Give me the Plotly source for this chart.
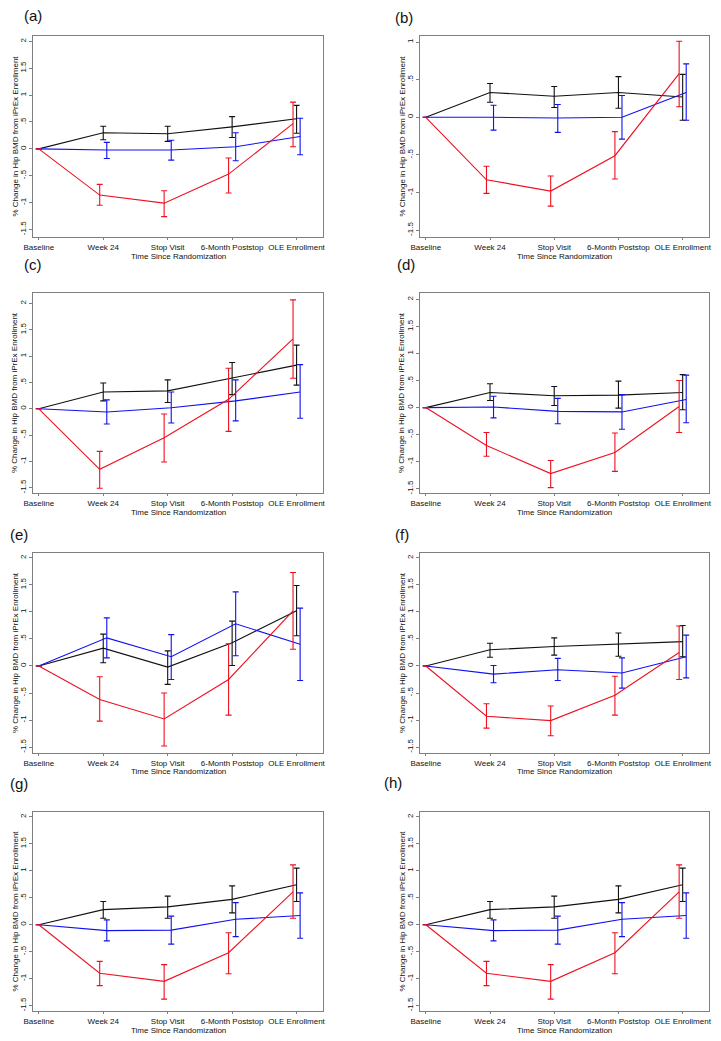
import plotly.graph_objects as go

W, H = 721, 1041

CATEGORIES = ["Baseline", "Week 24", "Stop Visit", "6-Month Poststop", "OLE Enrollment"]
PANEL_LABELS = ["(a)", "(b)", "(c)", "(d)", "(e)", "(f)", "(g)", "(h)"]

# ---- data: mean, upper CI, lower CI per panel and group ----
A_BLACK = [0, 0.30, 0.28, 0.41, 0.56]
A_BLACK_HI = [None, 0.42, 0.42, 0.60, 0.81]
A_BLACK_LO = [None, 0.17, 0.14, 0.21, 0.29]
A_BLUE = [0, -0.02, -0.02, 0.04, 0.23]
A_BLUE_HI = [None, 0.12, 0.16, 0.30, 0.57]
A_BLUE_LO = [None, -0.18, -0.21, -0.22, -0.11]
A_RED = [0, -0.86, -1.01, -0.47, 0.47]
A_RED_HI = [None, -0.66, -0.78, -0.17, 0.87]
A_RED_LO = [None, -1.05, -1.26, -0.82, 0.04]

B_BLACK = [0, 0.33, 0.28, 0.33, 0.27]
B_BLACK_HI = [None, 0.45, 0.41, 0.54, 0.57]
B_BLACK_LO = [None, 0.20, 0.13, 0.12, -0.04]
B_BLUE = [0, 0.00, -0.01, 0.00, 0.33]
B_BLUE_HI = [None, 0.16, 0.17, 0.29, 0.71]
B_BLUE_LO = [None, -0.17, -0.20, -0.29, -0.04]
B_RED = [0, -0.83, -0.98, -0.51, 0.58]
B_RED_HI = [None, -0.65, -0.78, -0.19, 1.01]
B_RED_LO = [None, -1.01, -1.18, -0.82, 0.14]

C_BLACK = [0, 0.32, 0.34, 0.58, 0.83]
C_BLACK_HI = [None, 0.49, 0.55, 0.88, 1.21]
C_BLACK_LO = [None, 0.15, 0.12, 0.27, 0.45]
C_BLUE = [0, -0.06, 0.02, 0.15, 0.32]
C_BLUE_HI = [None, 0.17, 0.32, 0.55, 0.84]
C_BLUE_LO = [None, -0.29, -0.27, -0.23, -0.18]
C_RED = [0, -1.15, -0.55, 0.18, 1.33]
C_RED_HI = [None, -0.81, -0.10, 0.77, 2.07]
C_RED_LO = [None, -1.51, -1.01, -0.43, 0.58]

D_BLACK = [0, 0.28, 0.22, 0.23, 0.28]
D_BLACK_HI = [None, 0.44, 0.39, 0.49, 0.61]
D_BLACK_LO = [None, 0.13, 0.04, -0.01, -0.04]
D_BLUE = [0, 0.01, -0.07, -0.08, 0.15]
D_BLUE_HI = [None, 0.21, 0.17, 0.24, 0.60]
D_BLUE_LO = [None, -0.19, -0.30, -0.40, -0.28]
D_RED = [0, -0.70, -1.22, -0.83, 0.02]
D_RED_HI = [None, -0.46, -0.98, -0.47, 0.50]
D_RED_LO = [None, -0.90, -1.48, -1.18, -0.46]

E_BLACK = [0, 0.33, -0.02, 0.43, 1.02]
E_BLACK_HI = [None, 0.59, 0.28, 0.83, 1.49]
E_BLACK_LO = [None, 0.06, -0.34, 0.01, 0.56]
E_BLUE = [0, 0.52, 0.17, 0.78, 0.40]
E_BLUE_HI = [None, 0.89, 0.58, 1.37, 1.07]
E_BLUE_LO = [None, 0.15, -0.25, 0.19, -0.27]
E_RED = [0, -0.62, -0.98, -0.25, 1.02]
E_RED_HI = [None, -0.20, -0.50, 0.41, 1.73]
E_RED_LO = [None, -1.02, -1.48, -0.91, 0.31]

F_BLACK = [0, 0.30, 0.36, 0.40, 0.45]
F_BLACK_HI = [None, 0.42, 0.52, 0.61, 0.75]
F_BLACK_LO = [None, 0.16, 0.20, 0.18, 0.17]
F_BLUE = [0, -0.15, -0.07, -0.13, 0.17]
F_BLUE_HI = [None, 0.01, 0.14, 0.15, 0.57]
F_BLUE_LO = [None, -0.31, -0.27, -0.41, -0.22]
F_RED = [0, -0.93, -1.01, -0.54, 0.25]
F_RED_HI = [None, -0.70, -0.74, -0.19, 0.74]
F_RED_LO = [None, -1.15, -1.29, -0.91, -0.25]

G_BLACK = [0, 0.28, 0.33, 0.47, 0.74]
G_BLACK_HI = [None, 0.43, 0.53, 0.72, 1.05]
G_BLACK_LO = [None, 0.12, 0.12, 0.22, 0.43]
G_BLUE = [0, -0.11, -0.10, 0.10, 0.17]
G_BLUE_HI = [None, 0.09, 0.16, 0.41, 0.59]
G_BLUE_LO = [None, -0.30, -0.36, -0.22, -0.25]
G_RED = [0, -0.90, -1.05, -0.52, 0.61]
G_RED_HI = [None, -0.68, -0.74, -0.15, 1.11]
G_RED_LO = [None, -1.13, -1.38, -0.91, 0.12]

H_BLACK = [0, 0.28, 0.33, 0.47, 0.74]
H_BLACK_HI = [None, 0.43, 0.53, 0.72, 1.05]
H_BLACK_LO = [None, 0.12, 0.12, 0.22, 0.43]
H_BLUE = [0, -0.11, -0.10, 0.10, 0.17]
H_BLUE_HI = [None, 0.09, 0.16, 0.41, 0.59]
H_BLUE_LO = [None, -0.30, -0.36, -0.22, -0.25]
H_RED = [0, -0.90, -1.05, -0.52, 0.61]
H_RED_HI = [None, -0.68, -0.74, -0.15, 1.11]
H_RED_LO = [None, -1.13, -1.38, -0.91, 0.12]

PANELS = [
    (A_BLACK, A_BLACK_HI, A_BLACK_LO, A_BLUE, A_BLUE_HI, A_BLUE_LO, A_RED, A_RED_HI, A_RED_LO),
    (B_BLACK, B_BLACK_HI, B_BLACK_LO, B_BLUE, B_BLUE_HI, B_BLUE_LO, B_RED, B_RED_HI, B_RED_LO),
    (C_BLACK, C_BLACK_HI, C_BLACK_LO, C_BLUE, C_BLUE_HI, C_BLUE_LO, C_RED, C_RED_HI, C_RED_LO),
    (D_BLACK, D_BLACK_HI, D_BLACK_LO, D_BLUE, D_BLUE_HI, D_BLUE_LO, D_RED, D_RED_HI, D_RED_LO),
    (E_BLACK, E_BLACK_HI, E_BLACK_LO, E_BLUE, E_BLUE_HI, E_BLUE_LO, E_RED, E_RED_HI, E_RED_LO),
    (F_BLACK, F_BLACK_HI, F_BLACK_LO, F_BLUE, F_BLUE_HI, F_BLUE_LO, F_RED, F_RED_HI, F_RED_LO),
    (G_BLACK, G_BLACK_HI, G_BLACK_LO, G_BLUE, G_BLUE_HI, G_BLUE_LO, G_RED, G_RED_HI, G_RED_LO),
    (H_BLACK, H_BLACK_HI, H_BLACK_LO, H_BLUE, H_BLUE_HI, H_BLUE_LO, H_RED, H_RED_HI, H_RED_LO),
]

Y_RANGES = [[-1.64, 2.1], [-1.59, 1.08], [-1.6, 2.2], [-1.58, 2.12],
            [-1.61, 2.09], [-1.61, 2.09], [-1.6, 2.09], [-1.6, 2.09]]
TICKS_FULL = [2, 1.5, 1, 0.5, 0, -0.5, -1, -1.5]
TICKS_FULL_TXT = ["2", "1.5", "1", ".5", "0", "-.5", "-1", "-1.5"]
TICKS_B = [1, 0.5, 0, -0.5, -1, -1.5]
TICKS_B_TXT = ["1", ".5", "0", "-.5", "-1", "-1.5"]

# ---- layout geometry (pixels) ----
COL_X = [(33, 323), (420, 709)]
ROW_Y = [(36, 237), (293, 493), (553, 753), (812, 1011)]
LABEL_POS = [(22, 15), (393, 17), (22, 264), (395, 265),
             (8, 534), (393, 534), (8, 783), (382, 782)]

FONT = "Liberation Sans, Arial, Helvetica, sans-serif"
COLORS = {"black": "#111111", "blue": "#1010f0", "red": "#ee1020"}
OFFSETS = {"black": 0.0, "blue": 0.055, "red": -0.055}
AXIS_GRAY = "#7f7f7f"

fig = go.Figure()
annotations = []

for i, pdata in enumerate(PANELS):
    row, col = divmod(i, 2)
    x0, x1 = COL_X[col]
    ytop, ybot = ROW_Y[row]
    xa = "xaxis" if i == 0 else f"xaxis{i+1}"
    ya = "yaxis" if i == 0 else f"yaxis{i+1}"
    xr = "x" if i == 0 else f"x{i+1}"
    yr = "y" if i == 0 else f"y{i+1}"

    groups = [("black", pdata[0:3]), ("blue", pdata[3:6]), ("red", pdata[6:9])]
    for name, (mean, hi, lo) in groups:
        xs = [k + (OFFSETS[name] if k > 0 else 0.0) for k in range(len(CATEGORIES))]
        up = [None if h is None else h - m for h, m in zip(hi, mean)]
        dn = [None if l is None else m - l for l, m in zip(lo, mean)]
        fig.add_trace(go.Scatter(
            x=xs, y=mean, mode="lines", xaxis=xr, yaxis=yr,
            line=dict(color=COLORS[name], width=1.1),
            error_y=dict(type="data", symmetric=False, array=up, arrayminus=dn,
                         color=COLORS[name], thickness=1.1, width=3),
            showlegend=False, hoverinfo="skip"))

    if i == 1:
        tv, tt = TICKS_B, TICKS_B_TXT
    else:
        tv, tt = TICKS_FULL, TICKS_FULL_TXT

    fig.layout[xa] = dict(
        domain=[x0 / W, x1 / W], anchor=yr, range=[-0.09, 4.41],
        tickmode="array", tickvals=list(range(len(CATEGORIES))), ticktext=CATEGORIES,
        ticks="outside", ticklen=2, tickcolor=AXIS_GRAY, tickwidth=1,
        showline=True, linecolor=AXIS_GRAY, linewidth=1, mirror=True,
        showgrid=False, zeroline=False, fixedrange=True, automargin=False,
        tickfont=dict(family=FONT, size=8, color="#111"))
    fig.layout[ya] = dict(
        domain=[1 - ybot / H, 1 - ytop / H], anchor=xr, range=Y_RANGES[i],
        tickmode="array", tickvals=tv, ticktext=tt, tickangle=-90,
        ticks="outside", ticklen=3, tickcolor=AXIS_GRAY, tickwidth=1,
        showline=True, linecolor=AXIS_GRAY, linewidth=1, mirror=True,
        showgrid=False, zeroline=False, fixedrange=True, automargin=False,
        tickfont=dict(family=FONT, size=8, color="#111"))

    annotations.append(dict(
        text="Time Since Randomization", xref="paper", yref="paper",
        x=(x0 + x1) / 2 / W, y=1 - (ybot + 19) / H, xanchor="center", yanchor="middle",
        showarrow=False, font=dict(family=FONT, size=8, color="#111")))
    annotations.append(dict(
        text="% Change in Hip BMD from iPrEx Enrollment", xref="paper", yref="paper",
        x=(x0 - 18) / W, y=1 - (ytop + ybot) / 2 / H, xanchor="center", yanchor="middle",
        textangle=-90, showarrow=False, font=dict(family=FONT, size=8, color="#111")))
    lx, ly = LABEL_POS[i]
    annotations.append(dict(
        text=PANEL_LABELS[i], xref="paper", yref="paper",
        x=lx / W, y=1 - ly / H, xanchor="left", yanchor="middle",
        showarrow=False, font=dict(family=FONT, size=15, color="#111")))

fig.update_layout(
    template="none",
    width=W, height=H, margin=dict(l=0, r=0, t=0, b=0, autoexpand=False),
    paper_bgcolor="white", plot_bgcolor="white",
    annotations=annotations, showlegend=False)

fig.write_html("out.html", config={"displayModeBar": False},
               post_script="document.body.style.margin='0';document.body.style.overflow='hidden';")
